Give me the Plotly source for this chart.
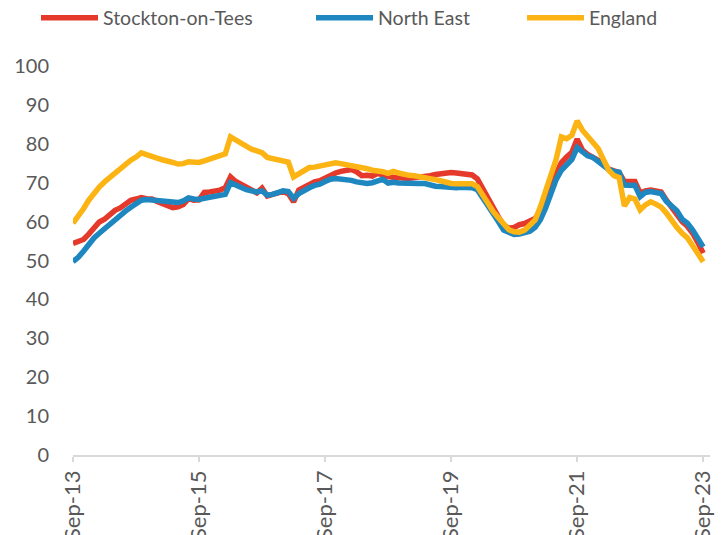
import pandas as pd
import plotly.graph_objects as go

# Monthly, Sep-13 .. Sep-23
months = pd.date_range("2013-09-01", "2023-09-01", freq="MS").strftime("%b-%y").tolist()

stockton = [
    54.4, 54.8, 55.4, 56.8, 58.6, 59.9, 60.6, 61.8, 62.9, 63.5,
    64.3, 65.5, 65.8, 66.2, 65.9, 65.8, 65.2, 64.6, 64.1, 63.6,
    63.8, 64.4, 65.9, 65.5, 65.6, 67.5, 67.6, 67.7, 68.1, 68.7,
    71.5, 70.3, 69.5, 68.9, 68.1, 67.4, 68.6, 66.6, 67.0, 67.3,
    67.7, 67.2, 65.1, 68.1, 68.8, 69.6, 70.2, 70.5, 71.3, 72.0,
    72.5, 72.9, 73.3, 73.4, 72.8, 71.8, 71.9, 71.7, 72.4, 71.9,
    71.6, 71.4, 71.2, 71.1, 71.1, 71.3, 71.4, 71.5, 71.8, 72.1,
    72.3, 72.6, 72.6, 72.5, 72.3, 72.2, 72.0, 71.0, 68.5, 65.5,
    63.5, 61.2, 59.1, 58.3, 58.5, 59.2, 59.5, 60.0, 60.8, 62.8,
    65.5, 69.5, 72.8, 75.2, 76.6, 77.8, 81.2, 78.4, 77.3, 76.4,
    75.8, 75.0, 73.5, 72.9, 72.6, 70.3, 70.4, 70.3, 67.3, 67.9,
    68.1, 67.9, 67.6, 65.5, 63.7, 61.8, 60.0, 58.8, 57.0, 54.6,
    51.9,
]

north_east = [
    49.7, 50.8, 52.4, 54.3, 55.8, 57.0, 58.2, 59.4, 60.4, 61.6,
    62.7, 63.7, 64.6, 65.5, 65.7, 65.6, 65.4, 65.3, 65.0, 64.9,
    64.9, 65.3, 66.1, 65.8, 65.7, 66.0, 66.2, 66.4, 66.8, 67.0,
    70.0, 69.3, 68.7, 68.2, 67.9, 67.6, 67.9, 66.8, 67.0, 67.4,
    67.9, 67.7, 66.0, 67.2, 68.1, 68.7, 69.3, 69.6, 70.3, 70.9,
    71.1, 71.0, 70.9, 70.6, 70.2, 69.9, 69.8, 70.0, 70.5, 70.9,
    69.9, 70.1, 69.9, 69.8, 69.8, 69.9, 69.8, 69.8, 69.4, 69.1,
    69.0, 68.8, 68.8, 68.7, 68.8, 68.8, 68.7, 68.2, 66.3, 64.1,
    62.3, 60.0, 57.8, 57.1, 56.7, 56.8, 57.2, 57.5, 58.5, 60.5,
    63.5, 67.5, 70.8, 73.2, 74.8, 76.0, 79.0, 77.9, 76.9, 76.5,
    75.5, 74.8, 73.4, 72.9, 72.7, 69.4, 69.4, 69.3, 66.4, 67.5,
    67.7, 67.5, 67.2, 65.2, 63.8, 62.8, 60.6, 59.6, 57.8, 55.8,
    53.5,
]

england = [
    59.6, 61.2, 63.3, 65.5, 67.3, 68.9, 70.2, 71.4, 72.3, 73.5,
    74.9, 75.8, 76.6, 77.7, 77.2, 76.9, 76.3, 75.9, 75.7, 75.2,
    74.8, 74.9, 75.4, 75.2, 75.2, 75.6, 76.0, 76.4, 76.8, 77.4,
    81.8, 81.0, 80.2, 79.3, 78.6, 78.2, 77.7, 76.5, 76.2, 76.0,
    75.8, 75.3, 71.5, 72.3, 73.2, 73.9, 74.0, 74.3, 74.5, 75.0,
    75.1, 74.9, 74.7, 74.4, 74.0, 73.8, 73.6, 73.2, 73.1, 72.8,
    72.4, 72.9, 72.5, 72.1, 71.9, 71.8, 71.6, 71.5, 71.2, 70.8,
    70.5, 70.1, 69.8, 69.7, 69.8, 69.9, 69.7, 69.0, 66.8, 64.5,
    62.6, 61.0, 59.5, 57.9, 57.4, 57.3, 57.8, 58.9, 60.4, 63.8,
    68.0, 71.8, 76.0, 81.8, 81.3, 82.2, 85.9, 83.5, 82.0, 80.4,
    78.8, 76.0, 73.2, 71.8, 71.3, 64.0, 66.2, 65.8, 63.0, 64.3,
    65.1, 64.5, 63.7, 62.2, 60.2, 58.5, 57.0, 55.8, 53.8, 52.0,
    49.7,
]

series_names = ["Stockton-on-Tees", "North East", "England"]
series_values = [stockton, north_east, england]
series_colors = ["#E5392B", "#1E87C0", "#FCB415"]
legend_ids = ["legend", "legend2", "legend3"]

tick_labels = [months[i] for i in range(0, len(months), 24)]
tick_idx = list(range(0, len(months), 24))
y_ticks = list(range(0, 101, 10))

idx = list(range(len(months)))

fig = go.Figure()
for name, vals, col, lg in zip(series_names, series_values, series_colors, legend_ids):
    fig.add_trace(go.Scatter(
        x=idx, y=vals, mode="lines", name=name,
        line=dict(color=col, width=5.5, shape="linear"),
        legend=lg,
    ))

font_family = "Lato, 'Open Sans', sans-serif"
grey = "#595959"

legend_common = dict(
    orientation="h", xref="container", yref="container",
    yanchor="middle", xanchor="left", y=1 - 18 / 535,
    font=dict(family=font_family, size=19.5, color=grey),
    itemwidth=57, bgcolor="rgba(0,0,0,0)", borderwidth=0,
    tracegroupgap=0,
)

fig.update_layout(
    width=724, height=535,
    margin=dict(l=73, r=14, t=66, b=80, autoexpand=False),
    paper_bgcolor="white", plot_bgcolor="white",
    template="none",
    showlegend=True,
    legend=dict(legend_common, x=36 / 724),
    legend2=dict(legend_common, x=311 / 724),
    legend3=dict(legend_common, x=522 / 724),
    font=dict(family=font_family, size=20, color=grey),
    xaxis=dict(
        range=[0, 121.3], tickmode="array", tickvals=tick_idx, ticktext=tick_labels,
        tickangle=-90, ticks="outside", ticklen=5, tickcolor="#D9D9D9", tickwidth=1.5,
        showline=True, linecolor="#D9D9D9", linewidth=1.5, showgrid=False,
        zeroline=False, automargin=False,
        tickfont=dict(family=font_family, size=22, color=grey),
    ),
    yaxis=dict(
        range=[0, 100], tickmode="array", tickvals=y_ticks,
        showline=False, showgrid=False, zeroline=False, ticks="",
        ticklabelstandoff=23, automargin=False,
        tickfont=dict(family=font_family, size=20, color=grey),
    ),
)

fig.write_html(
    "out.html",
    config={"displayModeBar": False},
    post_script="document.body.style.margin='0';document.body.style.padding='0';",
)
